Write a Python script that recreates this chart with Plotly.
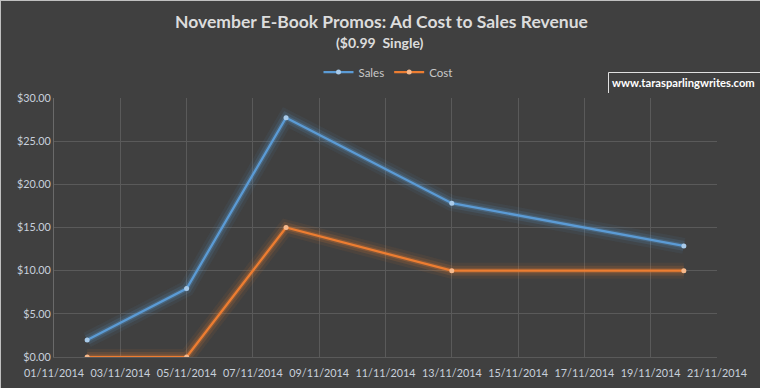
import plotly.graph_objects as go

dates = ["2014-11-02", "2014-11-05", "2014-11-08", "2014-11-13", "2014-11-20"]
sales = [1.98, 7.92, 27.72, 17.82, 12.87]
cost = [0.00, 0.00, 15.00, 10.00, 10.00]

title = "November E-Book Promos: Ad Cost to Sales Revenue"
subtitle = "($0.99  Single)"
watermark = "www.tarasparlingwrites.com"

W, H = 760, 388
L, R, T, B = 54, 717, 98, 357
def px(x):
    return (x - L) / (R - L)
def py(y):
    return (B - y) / (B - T)

FONT = "Lato"
fig = go.Figure()

series = [("Sales", sales, "91,155,213", "#a9cbea"), ("Cost", cost, "237,125,49", "#f6b98c")]
for name, vals, rgb, mk in series:
    for w, a in [(16, 0.07), (10, 0.14), (5, 0.25)]:
        fig.add_trace(go.Scatter(x=dates, y=vals, mode="lines", showlegend=False, hoverinfo="skip",
                                 line=dict(color=f"rgba({rgb},{a})", width=w)))
for name, vals, rgb, mk in series:
    fig.add_trace(go.Scatter(x=dates, y=vals, mode="lines+markers", name=name,
                             line=dict(color=f"rgb({rgb})", width=2.25),
                             marker=dict(size=5, color=mk)))

fig.update_layout(
    width=W, height=H,
    margin=dict(l=L, r=W - R, t=T, b=H - B, autoexpand=False),
    paper_bgcolor="#404040", plot_bgcolor="#404040",
    font=dict(family=FONT, color="#d0d0d0", size=12),
    showlegend=True,
    legend=dict(orientation="h", x=px(388), xanchor="center", y=py(72), yanchor="middle",
                font=dict(size=11.5, color="#c8c8c8"), bgcolor="rgba(0,0,0,0)",
                itemwidth=30, tracegroupgap=0),
    xaxis=dict(type="date", range=["2014-11-01", "2014-11-21"], dtick=2 * 86400000,
               tick0="2014-11-01", tickformat="%d/%m/%Y", tickangle=0, automargin=False,
               showgrid=True, gridcolor="#5a5a5a", ticklabelstandoff=6,
               gridwidth=1, zeroline=False, showline=True, linecolor="#5a5a5a",
               ticks="", ticklen=0, tickfont=dict(size=10.8, color="#c8d0dc")),
    yaxis=dict(range=[0, 30], dtick=5, tickprefix="$", tickformat=".2f", showgrid=True,
               automargin=False,
               gridcolor="#5a5a5a", zeroline=False, showline=True, linecolor="#6a6a6a",
               ticks="", tickfont=dict(size=10.8, color="#c8d0dc")),
    annotations=[
        dict(text=f"<b>{title}</b>", x=px(381), y=py(22), xref="paper", yref="paper",
             showarrow=False, font=dict(size=17.5, color="#dcdcdc", family=FONT), xanchor="center", yanchor="middle"),
        dict(text=f"<b>{subtitle}</b>", x=px(380), y=py(43), xref="paper", yref="paper",
             showarrow=False, font=dict(size=14, color="#dcdcdc", family=FONT), xanchor="center", yanchor="middle"),
        dict(text=f"<b>{watermark}</b>", x=px(610), y=py(83), xref="paper", yref="paper",
             showarrow=False, font=dict(size=11.2, color="#ffffff", family=FONT), xanchor="left", yanchor="middle"),
    ],
    shapes=[
        dict(type="line", xref="paper", yref="paper", x0=px(608.5), x1=px(760), y0=py(72.5), y1=py(72.5),
             line=dict(color="#e0e0e0", width=1)),
        dict(type="line", xref="paper", yref="paper", x0=px(608.5), x1=px(608.5), y0=py(72.5), y1=py(93),
             line=dict(color="#e0e0e0", width=1)),
        dict(type="line", xref="paper", yref="paper", x0=px(0), x1=px(760), y0=py(0.5), y1=py(0.5),
             line=dict(color="#c0c0c0", width=1)),
        dict(type="line", xref="paper", yref="paper", x0=px(0.5), x1=px(0.5), y0=py(0), y1=py(388),
             line=dict(color="#c0c0c0", width=1)),
    ],
)

fig.write_html("out.html", config={"displayModeBar": False},
               post_script="document.body.style.margin='0';document.body.style.overflow='hidden';")
